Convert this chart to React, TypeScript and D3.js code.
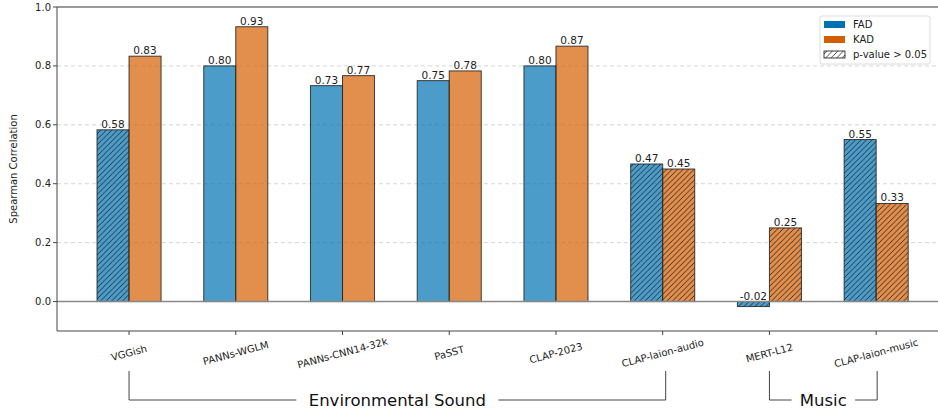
import React from "react";
import * as d3 from "d3";

const categories = ["VGGish", "PANNs-WGLM", "PANNs-CNN14-32k", "PaSST", "CLAP-2023", "CLAP-laion-audio", "MERT-L12", "CLAP-laion-music"];
const fadValues = [0.583, 0.80, 0.733, 0.75, 0.80, 0.467, -0.017, 0.55];
const kadValues = [0.833, 0.933, 0.767, 0.783, 0.867, 0.45, 0.25, 0.333];
const fadHatched = [true, false, false, false, false, true, true, true];
const kadHatched = [false, false, false, false, false, true, true, true];
const yTicks = [0.0, 0.2, 0.4, 0.6, 0.8, 1.0];
const groups = [
  { label: "Environmental Sound", from: 0, to: 5 },
  { label: "Music", from: 6, to: 7 },
];
const legendItems = ["FAD", "KAD", "p-value > 0.05"];

const W = 938, H = 410;
const FONT = "DejaVu Sans, sans-serif";
const FAD_COLOR = "#0072B2";
const KAD_COLOR = "#D55E00";

export default function App() {
  const left = 57, right = 937, top = 7, bottom = 331;
  const x = d3.scaleLinear().domain([-0.675, 7.57]).range([left, right]);
  const y = d3.scaleLinear().domain([-0.1, 1.0]).range([bottom, top]);
  const bw = 0.3;
  const fmt = (v: number) => d3.format(".2f")(v).replace("\u2212", "-");

  const bars: any[] = [];
  categories.forEach((c, i) => {
    [
      { v: fadValues[i], h: fadHatched[i], col: FAD_COLOR, off: -bw / 2, key: "f" },
      { v: kadValues[i], h: kadHatched[i], col: KAD_COLOR, off: bw / 2, key: "k" },
    ].forEach((b) => {
      const x0 = x(i + b.off - bw / 2);
      const x1 = x(i + b.off + bw / 2);
      const y0 = y(Math.max(0, b.v));
      const y1 = y(Math.min(0, b.v));
      bars.push(
        <g key={c + b.key}>
          <rect x={x0} y={y0} width={x1 - x0} height={y1 - y0} fill={b.col} fillOpacity={0.7} stroke="none" />
          {b.h && <rect x={x0} y={y0} width={x1 - x0} height={y1 - y0} fill="url(#hatch)" />}
          <rect x={x0} y={y0} width={x1 - x0} height={y1 - y0} fill="none" stroke="#222" strokeOpacity={0.85} strokeWidth={1} />
          <text x={(x0 + x1) / 2} y={y(Math.max(0, b.v)) - 2} textAnchor="middle" fontSize={10.5} fill="#222" fontFamily={FONT}>
            {fmt(b.v)}
          </text>
        </g>
      );
    });
  });

  return (
    <svg width={W} height={H} style={{ position: "absolute", left: 0, top: 0, background: "#fff" }} fontFamily={FONT}>
      <defs>
        <pattern id="hatch" patternUnits="userSpaceOnUse" width={5.5} height={5.5}>
          <path d="M-1,1 l2,-2 M0,5.5 l5.5,-5.5 M4.5,6.5 l2,-2" stroke="#1a1a1a" strokeWidth={0.8} />
        </pattern>
      </defs>
      <rect width={W} height={H} fill="#fff" />
      {yTicks.filter((t) => t > 0 && t < 1).map((t) => (
        <line key={t} x1={left} x2={W} y1={y(t)} y2={y(t)} stroke="#ccc" strokeDasharray="4,3" strokeWidth={0.8} />
      ))}
      {bars}
      <line x1={left} x2={W} y1={y(0)} y2={y(0)} stroke="#888" strokeWidth={1.5} />
      <line x1={left} x2={W} y1={top} y2={top} stroke="#999" strokeWidth={1.8} />
      <line x1={left} x2={W} y1={bottom} y2={bottom} stroke="#444" strokeWidth={1} />
      <line x1={left} x2={left} y1={top} y2={bottom} stroke="#444" strokeWidth={1} />
      {yTicks.map((t) => (
        <g key={t}>
          <line x1={left - 4} x2={left} y1={y(t)} y2={y(t)} stroke="#444" />
          <text x={left - 6} y={y(t)} dy="0.35em" textAnchor="end" fontSize={10} fill="#222">
            {d3.format(".1f")(t)}
          </text>
        </g>
      ))}
      <text transform={`translate(17,${(top + bottom) / 2}) rotate(-90)`} textAnchor="middle" fontSize={10} fill="#222">
        Spearman Correlation
      </text>
      {categories.map((c, i) => (
        <g key={c}>
          <line x1={x(i)} x2={x(i)} y1={bottom} y2={bottom + 4} stroke="#444" />
          <text transform={`translate(${x(i)},${bottom + 22}) rotate(-15)`} textAnchor="middle" dy="0.35em" fontSize={10} fill="#222">
            {c}
          </text>
        </g>
      ))}
      {groups.map((g) => {
        const xa = x(g.from), xb = x(g.to) + (g.to === 5 ? 3 : 1);
        const xm = (xa + xb) / 2;
        const by = 400;
        const tw = g.label.length * 9.9 + 14;
        return (
          <g key={g.label}>
            <path d={`M${xa},371 V${by} H${xm - tw / 2} M${xm + tw / 2},${by} H${xb} V371`} fill="none" stroke="#444" strokeWidth={1} />
            <text x={xm} y={by} dy="0.35em" textAnchor="middle" fontSize={16.5} fill="#111">
              {g.label}
            </text>
          </g>
        );
      })}
      <g transform="translate(820,16)">
        <rect x={0} y={0} width={110} height={48} rx={2} fill="#fff" fillOpacity={0.8} stroke="#ddd" />
        {legendItems.map((l, k) => (
          <g key={l} transform={`translate(4,${8 + k * 15})`}>
            {k === 0 && <rect x={0} y={-3} width={21} height={7} fill={FAD_COLOR} />}
            {k === 1 && <rect x={0} y={-3} width={21} height={7} fill={KAD_COLOR} />}
            {k === 2 && (
              <g>
                <rect x={0} y={-3} width={21} height={7} fill="#fff" />
                <rect x={0} y={-3} width={21} height={7} fill="url(#hatch)" />
                <rect x={0} y={-3} width={21} height={7} fill="none" stroke="#111" strokeWidth={0.8} />
              </g>
            )}
            <text x={29} y={0.5} dy="0.35em" fontSize={10} fill="#222">{l}</text>
          </g>
        ))}
      </g>
    </svg>
  );
}
